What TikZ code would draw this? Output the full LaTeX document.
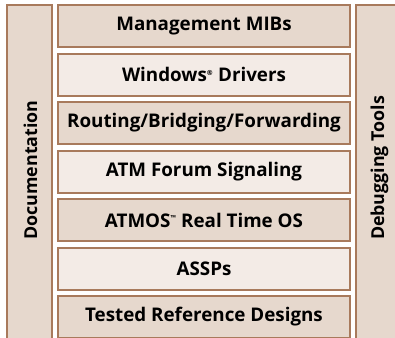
\documentclass[tikz,border=0pt]{standalone}
\usepackage{fontspec}
\setmainfont{Open Sans}
\definecolor{layerdark}{HTML}{E6D8CD}
\definecolor{layerlight}{HTML}{F3EBE6}
\definecolor{layeredge}{HTML}{A87A5C}
\tikzset{
  layer/.style={draw=layeredge, line width=2pt, minimum width=292pt, minimum height=42pt,
    inner sep=0pt, font=\fontsize{18.8}{21}\selectfont\bfseries},
  dark/.style={fill=layerdark},
  light/.style={fill=layerlight},
  sidebar/.style={draw=layeredge, line width=2pt, fill=layerdark, inner sep=0pt},
  sidelabel/.style={rotate=90, font=\fontsize{17.8}{21}\selectfont\bfseries}
}
\begin{document}
\begin{tikzpicture}[x=1pt, y=-1pt]
  \useasboundingbox (0,0) rectangle (395,337);
  % side columns
  \node[sidebar, minimum width=45pt, minimum height=345pt] (docs) at (29.5,177.5) {};
  \node[sidebar, minimum width=50pt, minimum height=345pt] (debug) at (381,177.5) {};
  \node[sidelabel] (docslabel) at (30.5,170) {Documentation};
  \node[sidelabel] (debuglabel) at (379.5,168) {Debugging Tools};
  % stack of layers
  \node[layer, dark]  (mibs)    at (204,26)    {Management MIBs};
  \node[layer, light] (drivers) at (204,74.5)  {Windows\textsuperscript{\scriptsize\textregistered} Drivers};
  \node[layer, dark]  (routing) at (204,123)   {Routing/Bridging/Forwarding};
  \node[layer, light] (atmf)    at (204,171.5) {ATM Forum Signaling};
  \node[layer, dark]  (atmos)   at (204,220)   {ATMOS\textsuperscript{\scriptsize\texttrademark} Real Time OS};
  \node[layer, light] (assps)   at (204,268.5) {ASSPs};
  \node[layer, dark]  (designs) at (204,317)   {Tested Reference Designs};
\end{tikzpicture}
\end{document}
